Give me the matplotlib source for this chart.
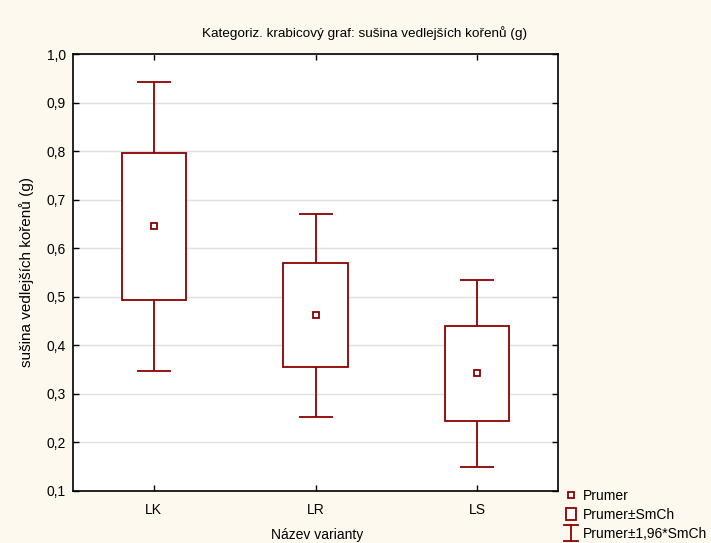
import matplotlib
matplotlib.use("Agg")
import matplotlib.pyplot as plt
from matplotlib.ticker import FuncFormatter
from matplotlib.legend_handler import HandlerBase
from matplotlib.lines import Line2D
from matplotlib.patches import Rectangle

categories = ["LK", "LR", "LS"]
means = [0.646, 0.462, 0.343]
box_low = [0.493, 0.355, 0.244]
box_high = [0.796, 0.570, 0.440]
whisk_low = [0.347, 0.252, 0.149]
whisk_high = [0.942, 0.670, 0.535]
y_ticks = [0.1, 0.2, 0.3, 0.4, 0.5, 0.6, 0.7, 0.8, 0.9, 1.0]

color = "#8b0000"
bg = "#fef9ef"

plt.rcParams["font.family"] = ["Liberation Sans", "DejaVu Sans"]
plt.rcParams["font.size"] = 10

fig = plt.figure(figsize=(7.11, 5.43), dpi=100, facecolor=bg)
ax = fig.add_axes([73/711, 1 - 491/543, (558-73)/711, (491-54)/543])
ax.set_facecolor("white")

pos = list(range(1, len(categories) + 1))
yerr = [[m - lo for m, lo in zip(means, whisk_low)],
        [hi - m for m, hi in zip(means, whisk_high)]]
eb = ax.errorbar(pos, means, yerr=yerr, fmt="none", ecolor=color,
                 elinewidth=1.3, capsize=12, capthick=1.3, zorder=2,
                 label="Prumer±1,96*SmCh")
bars = ax.bar(pos, [h - l for h, l in zip(box_high, box_low)], bottom=box_low,
              width=0.4, facecolor="white", edgecolor=color, linewidth=1.3,
              zorder=3, label="Prumer±SmCh")
mk, = ax.plot(pos, means, linestyle="none", marker="s", markersize=4,
              markerfacecolor="white", markeredgecolor=color,
              markeredgewidth=1.3, zorder=4, label="Prumer")

ax.set_xlim(0.5, len(categories) + 0.5)
ax.set_ylim(0.1, 1.0)
ax.set_xticks(pos)
ax.set_xticklabels(categories)
ax.set_yticks(y_ticks)
ax.yaxis.set_major_formatter(FuncFormatter(lambda v, p: f"{v:.1f}".replace(".", ",")))
ax.tick_params(direction="in", length=4, width=1, top=True, right=True,
               labeltop=False, labelright=False, labelsize=10)
ax.tick_params(axis="x", pad=9)
ax.tick_params(axis="y", pad=5)
ax.grid(axis="y", color="#e0e0e0", linewidth=1, zorder=0)
ax.set_axisbelow(True)
for s in ax.spines.values():
    s.set_linewidth(1.2)
    s.set_color("black")

fig.text(365/711, 1 - 33/543, "Kategoriz. krabicový graf: sušina vedlejších kořenů (g)",
         ha="center", va="center", fontsize=9.7)
fig.text(27/711, 1 - 272/543, "sušina vedlejších kořenů (g)", rotation=90,
         ha="center", va="center", fontsize=11)
fig.text(317/711, 1 - 535/543, "Název varianty", ha="center", va="center", fontsize=10)


class MeanHandler(HandlerBase):
    def create_artists(self, legend, orig, xd, yd, w, h, fs, trans):
        cx, cy = -xd + w / 2, -yd + h / 2
        return [Line2D([cx], [cy], marker="s", markersize=4, markerfacecolor="white",
                       markeredgecolor=color, markeredgewidth=1.3, transform=trans)]


class BoxHandler(HandlerBase):
    def create_artists(self, legend, orig, xd, yd, w, h, fs, trans):
        cx, cy = -xd + w / 2, -yd + h / 2
        bw, bh = 7.5, 9.0
        return [Rectangle((cx - bw / 2, cy - bh / 2), bw, bh, facecolor="white",
                          edgecolor=color, linewidth=1.3, transform=trans)]


class IHandler(HandlerBase):
    def create_artists(self, legend, orig, xd, yd, w, h, fs, trans):
        cx, cy = -xd + w / 2, -yd + h / 2
        cw, ch = 9.5, 12.0
        kw = dict(color=color, linewidth=1.3, transform=trans)
        return [Line2D([cx, cx], [cy - ch / 2, cy + ch / 2], **kw),
                Line2D([cx - cw / 2, cx + cw / 2], [cy + ch / 2, cy + ch / 2], **kw),
                Line2D([cx - cw / 2, cx + cw / 2], [cy - ch / 2, cy - ch / 2], **kw)]


fig.legend(handles=[mk, bars, eb], labels=["Prumer", "Prumer±SmCh", "Prumer±1,96*SmCh"],
           handler_map={mk: MeanHandler(), bars: BoxHandler(), eb: IHandler()},
           loc="upper left", bbox_to_anchor=(564/711, 1 - 489/543), frameon=False,
           handlelength=1.0, handleheight=1.0, handletextpad=0.35, labelspacing=0.35,
           borderpad=0, borderaxespad=0, fontsize=10)

fig.savefig("out.png", dpi=100, facecolor=bg)
